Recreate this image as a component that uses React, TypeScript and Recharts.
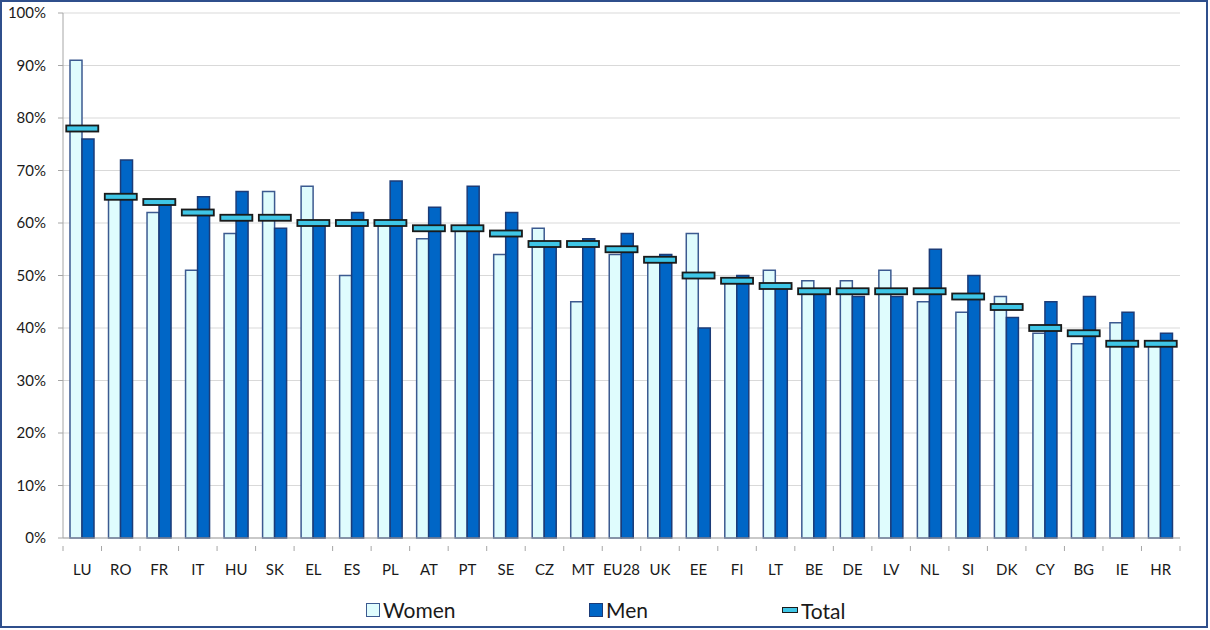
import {
  ComposedChart,
  Bar,
  Line,
  XAxis,
  YAxis,
  CartesianGrid,
} from 'recharts';

const countries = [
  'LU', 'RO', 'FR', 'IT', 'HU', 'SK', 'EL', 'ES', 'PL', 'AT', 'PT', 'SE', 'CZ', 'MT', 'EU28',
  'UK', 'EE', 'FI', 'LT', 'BE', 'DE', 'LV', 'NL', 'SI', 'DK', 'CY', 'BG', 'IE', 'HR',
];
const women = [91, 65, 62, 51, 58, 66, 67, 50, 60, 57, 59, 54, 59, 45, 54, 53, 58, 49, 51, 49, 49, 51, 45, 43, 46, 39, 37, 41, 37];
const men = [76, 72, 64, 65, 66, 59, 60, 62, 68, 63, 67, 62, 56, 57, 58, 54, 40, 50, 48, 47, 46, 46, 55, 50, 42, 45, 46, 43, 39];
const total = [78, 65, 64, 62, 61, 61, 60, 60, 60, 59, 59, 58, 56, 56, 55, 53, 50, 49, 48, 47, 47, 47, 47, 46, 44, 40, 39, 37, 37];
const yTicks = [0, 10, 20, 30, 40, 50, 60, 70, 80, 90, 100];

const FONT = 'Lato, "Open Sans", sans-serif';
const W = 1210;
const H = 630;
const margin = { top: 13, right: 30, left: 5, bottom: 62 };
const Y_AXIS_W = 58;
const band = (W - margin.left - margin.right - Y_AXIS_W) / countries.length;

const data = countries.map((c, i) => ({
  country: c,
  women: women[i],
  men: men[i],
  total: total[i],
}));

// category label plus tick marks on the category boundaries (Excel style)
function CatTick(props: any) {
  const { x, y, payload, index } = props;
  const last = index === countries.length - 1;
  return (
    <g>
      <line x1={x - band / 2} x2={x - band / 2} y1={y} y2={y + 5} stroke="#a6a6a6" />
      {last && <line x1={x + band / 2} x2={x + band / 2} y1={y} y2={y + 5} stroke="#a6a6a6" />}
      <text x={x} y={y + 29} textAnchor="middle" fontSize={15} fill="#1a1a1a" fontFamily={FONT}>
        {payload.value}
      </text>
    </g>
  );
}

function TotalMark(props: any) {
  const { cx, cy } = props;
  if (cx == null || cy == null) return null;
  return (
    <g>
      <rect x={cx - 15} y={cy - 2} width={32} height={6} fill="rgba(0,0,0,0.12)" />
      <rect x={cx - 16} y={cy - 3} width={32} height={6} fill="#3fc6e6" stroke="#1a1a1a" strokeWidth={1.8} />
    </g>
  );
}

function LegendItem({ kind, label }: { kind: string; label: string }) {
  let icon;
  if (kind === 'women') {
    icon = <span style={{ display: 'inline-block', width: 12, height: 12, background: '#dffcfd', border: '1.5px solid #3c5a90', marginRight: 3 }} />;
  } else if (kind === 'men') {
    icon = <span style={{ display: 'inline-block', width: 12, height: 12, background: '#0066c6', border: '1.5px solid #1c3c78', marginRight: 3 }} />;
  } else {
    icon = <span style={{ display: 'inline-block', width: 14, height: 4, background: '#3fc6e6', border: '1.5px solid #1a1a1a', marginRight: 3 }} />;
  }
  return (
    <span style={{ display: 'inline-flex', alignItems: 'center', fontSize: 21, color: '#1a1a1a' }}>
      {icon}
      {label}
    </span>
  );
}

export default function App() {
  return (
    <div style={{ position: 'absolute', left: 0, top: 0, width: W, height: H, background: '#fff', fontFamily: FONT }}>
      <div
        style={{
          position: 'absolute',
          left: 0,
          top: 0,
          width: 1208,
          height: 628,
          boxSizing: 'border-box',
          border: '2px solid #2f4f8c',
        }}
      />
      <ComposedChart width={W} height={H} data={data} margin={margin} barGap={0} barSize={12}>
        <CartesianGrid vertical={false} stroke="#d9d9d9" />
        <XAxis
          dataKey="country"
          interval={0}
          tickLine={false}
          axisLine={{ stroke: '#a6a6a6' }}
          tick={<CatTick />}
        />
        <YAxis
          width={Y_AXIS_W}
          domain={[0, 100]}
          ticks={yTicks}
          interval={0}
          tickFormatter={(v: number) => `${v}%`}
          tickSize={5}
          tickMargin={12}
          tickLine={{ stroke: '#a6a6a6' }}
          axisLine={{ stroke: '#a6a6a6' }}
          tick={{ fontSize: 15, fill: '#1a1a1a', fontFamily: FONT }}
        />
        <Bar dataKey="women" name="Women" fill="#dffcfd" stroke="#3c5a90" strokeWidth={1.5} isAnimationActive={false} />
        <Bar dataKey="men" name="Men" fill="#0066c6" stroke="#1c3c78" strokeWidth={1.5} isAnimationActive={false} />
        <Line
          dataKey="total"
          name="Total"
          stroke="none"
          dot={<TotalMark />}
          activeDot={false}
          isAnimationActive={false}
        />
      </ComposedChart>
      <div style={{ position: 'absolute', top: 597, left: 366, display: 'flex' }}>
        <div style={{ width: 223 }}><LegendItem kind="women" label="Women" /></div>
        <div style={{ width: 193 }}><LegendItem kind="men" label="Men" /></div>
        <div><LegendItem kind="total" label="Total" /></div>
      </div>
    </div>
  );
}
